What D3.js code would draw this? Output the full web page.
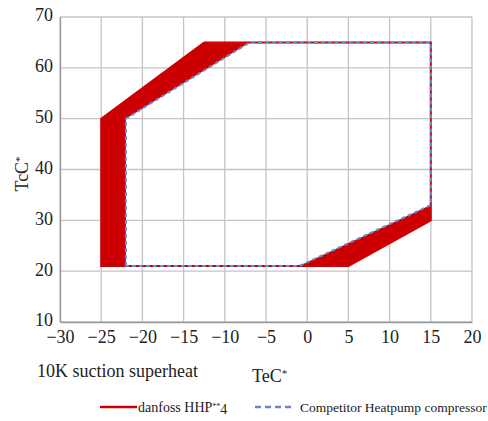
<!DOCTYPE html>
<html>
<head>
<meta charset="utf-8">
<script src="https://cdn.jsdelivr.net/npm/d3@7"></script>
<style>
body { margin: 0; background: #fff; }
text { font-family: "Liberation Serif", "Times New Roman", serif; fill: #222; }
</style>
</head>
<body>
<script>
// envelope corners, evaporating temp (Te) vs condensing temp (Tc)
var danfossTe = [-25, -25, -12.5, 15, 15, 5];
var danfossTc = [21, 50, 65, 65, 30, 21];
var competitorTe = [-22, -22, -7, 15, 15, -1];
var competitorTc = [21, 50, 65, 65, 33, 21];
var xTicks = [-30, -25, -20, -15, -10, -5, 0, 5, 10, 15, 20];
var yTicks = [10, 20, 30, 40, 50, 60, 70];
var seriesNames = ["danfoss HHP", "Competitor Heatpump compressor"];

var width = 488, height = 421;
var x = d3.scaleLinear().domain([-30, 20]).range([60, 472]);
var y = d3.scaleLinear().domain([10, 70]).range([322, 17]);

var svg = d3.select("body").append("svg").attr("width", width).attr("height", height);

// grid
svg.append("g").selectAll("line.vx")
  .data(xTicks).enter().append("line")
  .attr("x1", function(d){ return x(d); }).attr("x2", function(d){ return x(d); })
  .attr("y1", y(10)).attr("y2", y(70))
  .attr("stroke", "#c4c4c4").attr("stroke-width", 1.3);
svg.append("g").selectAll("line.hy")
  .data(yTicks).enter().append("line")
  .attr("y1", function(d){ return y(d); }).attr("y2", function(d){ return y(d); })
  .attr("x1", x(-30)).attr("x2", x(20))
  .attr("stroke", "#c4c4c4").attr("stroke-width", 1.3);

function pts(te, tc) {
  return te.map(function(d, i){ return [x(d), y(tc[i])]; });
}
var line = d3.line().curve(d3.curveLinearClosed);
var dPts = pts(danfossTe, danfossTc);
var cPts = pts(competitorTe, competitorTc);

// red band = union minus overlap of the two envelopes
svg.append("path")
  .attr("d", line(dPts) + line(cPts))
  .attr("fill", "#cc0000")
  .attr("fill-rule", "evenodd");

svg.append("path")
  .attr("d", line(dPts))
  .attr("fill", "none")
  .attr("stroke", "#cc0000")
  .attr("stroke-width", 2);

svg.append("path")
  .attr("d", line(cPts))
  .attr("fill", "none")
  .attr("stroke", "#5b8fd6")
  .attr("stroke-width", 2)
  .attr("stroke-dasharray", "4,3");

// axes
var xAxis = svg.append("g").attr("transform", "translate(0," + y(10) + ")")
  .call(d3.axisBottom(x).tickValues(xTicks).tickSize(0).tickPadding(8));
var yAxis = svg.append("g").attr("transform", "translate(" + x(-30) + ",0)")
  .call(d3.axisLeft(y).tickValues(yTicks).tickSize(0).tickPadding(7));
[xAxis, yAxis].forEach(function(a){
  a.select(".domain").attr("stroke", "#999").attr("stroke-width", 1.3);
  a.selectAll("text").style("font-family", "Liberation Serif, serif").style("font-size", "18px").attr("fill", "#222");
});
yAxis.selectAll("text").attr("dy", "0.22em");

// axis titles
var yt = svg.append("text")
  .attr("transform", "translate(28,174) rotate(-90)")
  .attr("text-anchor", "middle")
  .style("font-size", "18px");
yt.append("tspan").text("TcC");
yt.append("tspan").attr("dy", "-0.45em").style("font-size", "11px").text("*");

svg.append("text").attr("x", 37).attr("y", 377).style("font-size", "18px").text("10K suction superheat");
var xt = svg.append("text").attr("x", 252).attr("y", 382).style("font-size", "18px");
xt.append("tspan").text("TeC");
xt.append("tspan").attr("dy", "-0.45em").style("font-size", "11px").text("*");

// legend
var lg = svg.append("g");
lg.append("line").attr("x1", 100).attr("x2", 137).attr("y1", 407).attr("y2", 407)
  .attr("stroke", "#cc0000").attr("stroke-width", 2.5);
var l1 = lg.append("text").attr("x", 138).attr("y", 412).style("font-size", "14px");
l1.append("tspan").text(seriesNames[0]);
l1.append("tspan").attr("dy", "-0.4em").style("font-size", "8px").text("**");
l1.append("tspan").attr("dy", "0.4em").text("4");
lg.append("line").attr("x1", 255).attr("x2", 291).attr("y1", 407).attr("y2", 407)
  .attr("stroke", "#6f80d0").attr("stroke-width", 2.5).attr("stroke-dasharray", "6,4");
lg.append("text").attr("x", 300).attr("y", 412).style("font-size", "13.5px").text(seriesNames[1]);
</script>
</body>
</html>
